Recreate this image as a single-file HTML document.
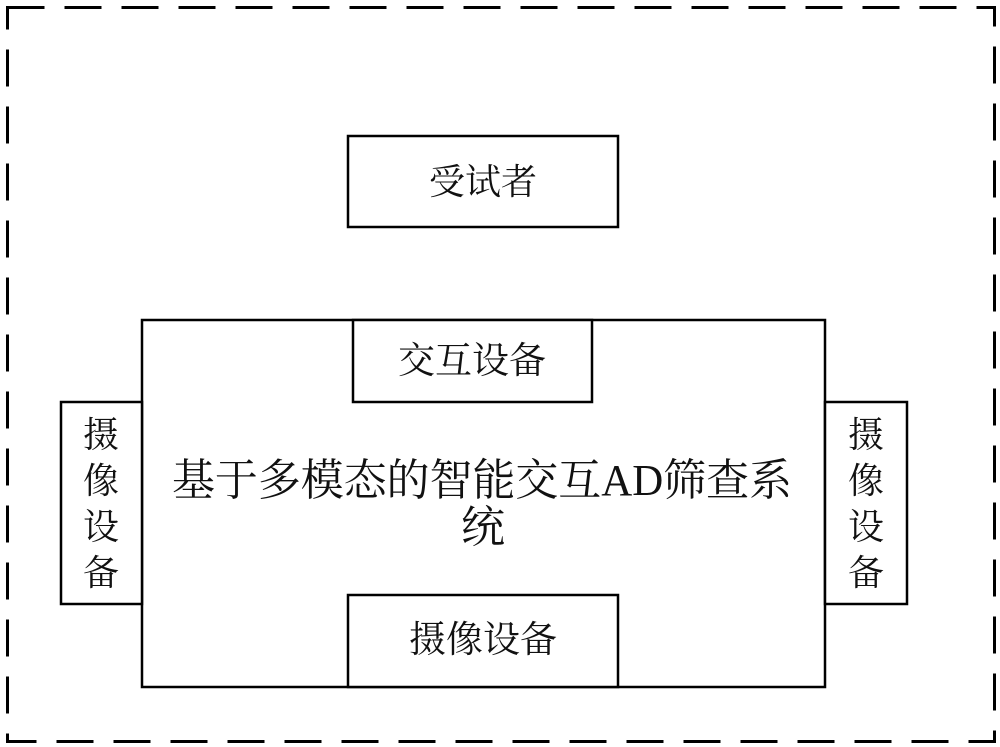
<!DOCTYPE html>
<html><head><meta charset="utf-8"><style>
html,body{margin:0;padding:0;background:#fff;}
svg{display:block;}
text{font-family:"Liberation Serif","Noto Serif CJK SC",serif;fill:#111;}
</style></head><body>
<svg width="1000" height="747" viewBox="0 0 1000 747">
<g fill="none" stroke="#000" stroke-width="3">
<rect x="7.5" y="7.5" width="987" height="734" stroke-dasharray="37,20"/>
</g>
<g fill="#fff" stroke="#000" stroke-width="2.5">
<rect x="348" y="136" width="270" height="91"/>
<rect x="142" y="320" width="683" height="367"/>
<rect x="353" y="320" width="239" height="82"/>
<rect x="348" y="595" width="270" height="92"/>
<rect x="61" y="402" width="81" height="202"/>
<rect x="825" y="402" width="82" height="202"/>
</g>
<text x="483" y="194" font-size="36" text-anchor="middle">受试者</text>
<text x="472" y="373" font-size="37" text-anchor="middle">交互设备</text>
<text x="483" y="652" font-size="37" text-anchor="middle">摄像设备</text>
<text x="172" y="495" font-size="44" textLength="620" lengthAdjust="spacingAndGlyphs">基于多模态的智能交互AD筛查系</text>
<text x="483" y="542" font-size="44" text-anchor="middle">统</text>
<g font-size="36" text-anchor="middle">
<text x="101" y="447">摄</text><text x="101" y="493">像</text><text x="101" y="539">设</text><text x="101" y="585">备</text>
<text x="866" y="447">摄</text><text x="866" y="493">像</text><text x="866" y="539">设</text><text x="866" y="585">备</text>
</g>
</svg>
</body></html>
